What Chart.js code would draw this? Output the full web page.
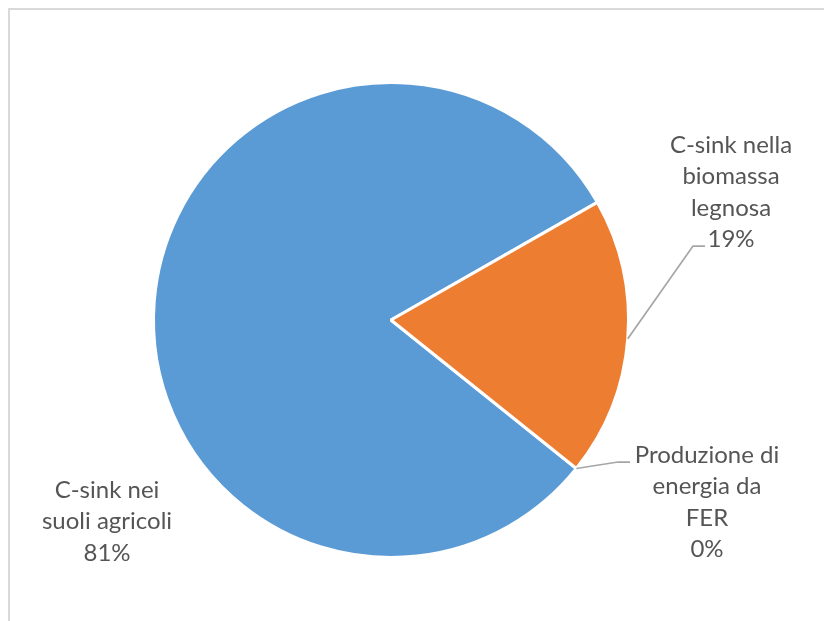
<!DOCTYPE html>
<html>
<head>
<meta charset="utf-8">
<script src="https://cdn.jsdelivr.net/npm/chart.js@4"></script>
<style>
  body { margin: 0; background: #fff; overflow: hidden; }
  #frame { position: absolute; left: 8px; top: 8px; width: 840px; height: 640px; border: 2px solid #d9d9d9; }
  #wrap { position: absolute; left: 0; top: 0; width: 824px; height: 621px; }
</style>
</head>
<body>
<div id="frame"></div>
<div id="wrap"><canvas id="myChart"></canvas></div>
<script>
var label = ["C-sink nei suoli agricoli", "C-sink nella biomassa legnosa", "Produzione di energia da FER"];
var labelLines = [["C-sink nei", "suoli agricoli"], ["C-sink nella", "biomassa", "legnosa"], ["Produzione di", "energia da", "FER"]];
var share = [81, 19, 0];
var colors = ["#5b9bd5", "#ed7d31", "#a5a5a5"];

// where each data label sits: text centre, first line y, and optional elbow of the leader line
var labelPos = [
  { x: 107, y: 490, leader: null },
  { x: 731, y: 145, leader: { x: 693, y: 246, endX: 705 } },
  { x: 707, y: 455, leader: { x: 618, y: 462, endX: 630 } }
];

var pieLabels = {
  id: 'pieLabels',
  afterDraw: function(chart) {
    var ctx = chart.ctx;
    var arcs = chart.getDatasetMeta(0).data;
    var total = share.reduce(function(a, b) { return a + b; }, 0);
    ctx.save();
    arcs.forEach(function(arc, i) {
      var pos = labelPos[i];
      if (pos.leader) {
        var mid = (arc.startAngle + arc.endAngle) / 2;
        var ax = arc.x + Math.cos(mid) * arc.outerRadius;
        var ay = arc.y + Math.sin(mid) * arc.outerRadius;
        ctx.strokeStyle = '#a6a6a6';
        ctx.lineWidth = 1.75;
        ctx.beginPath();
        ctx.moveTo(ax, ay);
        ctx.lineTo(pos.leader.x, pos.leader.y);
        ctx.lineTo(pos.leader.endX, pos.leader.y);
        ctx.stroke();
      }
      var lines = labelLines[i].concat([Math.round(share[i] / total * 100) + '%']);
      ctx.fillStyle = '#555555';
      ctx.font = '24px Lato';
      ctx.textAlign = 'center';
      ctx.textBaseline = 'middle';
      lines.forEach(function(t, k) {
        ctx.fillText(t, pos.x, pos.y + k * 31.5);
      });
    });
    ctx.restore();
  }
};

var ctx = document.getElementById("myChart");
var myChart = new Chart(ctx, {
  type: 'pie',
  data: {
    labels: label,
    datasets: [{
      data: share,
      backgroundColor: colors,
      borderColor: '#ffffff',
      borderWidth: 3
    }]
  },
  options: {
    responsive: true,
    maintainAspectRatio: false,
    animation: false,
    rotation: 128.7,
    layout: { padding: { left: 152, right: 194, top: 81, bottom: 62 } },
    plugins: {
      legend: { display: false },
      tooltip: { enabled: false }
    }
  },
  plugins: [pieLabels]
});
</script>
</body>
</html>
